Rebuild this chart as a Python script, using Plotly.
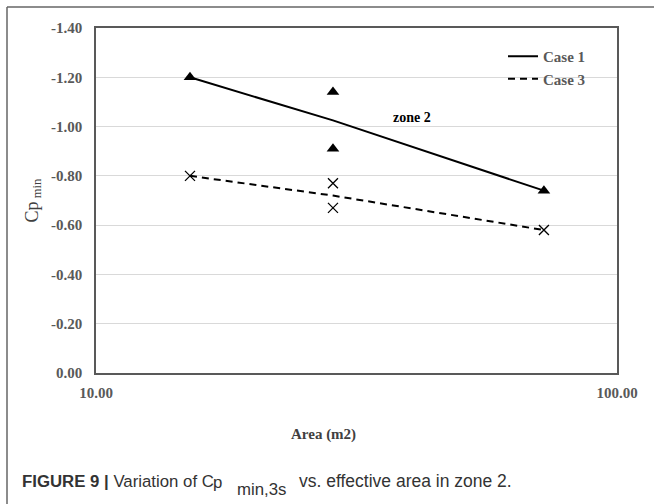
import plotly.graph_objects as go

# ---- data ----
area_mid = [15.15, 28.5, 72.4]
case1_line = [-1.20, -1.025, -0.74]
case3_line = [-0.80, -0.72, -0.58]
area_pts = [15.15, 28.5, 28.5, 72.4]
case1_pts = [-1.20, -1.14, -0.91, -0.74]
case3_pts = [-0.80, -0.77, -0.67, -0.58]
y_ticks = [0.0, -0.2, -0.4, -0.6, -0.8, -1.0, -1.2, -1.4]
y_ticktext = ["0.00", "-0.20", "-0.40", "-0.60", "-0.80", "-1.00", "-1.20", "-1.40"]
x_ticks = [10, 100]
x_ticktext = ["10.00", "100.00"]

W, H = 654, 504
L, R, T, B = 96, 37, 28, 131
pw, ph = W - L - R, H - T - B

def px(x):
    return (x - L) / pw

def py(y):
    return (H - B - y) / ph

serif = "Liberation Serif, Times New Roman, serif"
sans = "Liberation Sans, Arial, Helvetica, sans-serif"

fig = go.Figure()
fig.add_trace(go.Scatter(x=area_mid, y=case1_line, mode="lines", name="Case 1",
                         line=dict(color="black", width=2)))
fig.add_trace(go.Scatter(x=area_mid, y=case3_line, mode="lines", name="Case 3",
                         line=dict(color="black", width=2, dash="7px,5px")))
fig.add_trace(go.Scatter(x=area_pts, y=case1_pts, mode="markers", showlegend=False,
                         marker=dict(symbol="triangle-up", size=11, color="black")))
fig.add_trace(go.Scatter(x=area_pts, y=case3_pts, mode="markers", showlegend=False,
                         marker=dict(symbol="x-thin", size=10, color="black",
                                     line=dict(color="black", width=1.3))))

fig.update_layout(
    width=W, height=H,
    margin=dict(l=L, r=R, t=T, b=B),
    paper_bgcolor="white", plot_bgcolor="white",
    xaxis=dict(type="log", range=[1, 2], tickvals=x_ticks, ticktext=x_ticktext,
               showgrid=False, zeroline=False, showline=True, mirror=True,
               linecolor="#595959", linewidth=1.5, ticks="", ticklabelstandoff=5,
               tickfont=dict(family=serif, size=15, color="#595959", weight="bold")),
    yaxis=dict(range=[0, -1.4], tickvals=y_ticks, ticktext=y_ticktext,
               showgrid=True, gridcolor="#d9d9d9", gridwidth=1, zeroline=False,
               showline=True, mirror=True, linecolor="#595959", linewidth=1.5, ticks="",
               ticklabelstandoff=9,
               tickfont=dict(family=serif, size=15, color="#595959", weight="bold"),
               title=dict(text="Cp<sub> min</sub>", standoff=8,
                          font=dict(family=serif, size=18, color="#404040"))),
    legend=dict(x=px(503), y=py(40), xanchor="left", yanchor="top",
                bgcolor="rgba(0,0,0,0)", tracegroupgap=0, itemwidth=30,
                font=dict(family=serif, size=15, color="#595959", weight="bold")),
    showlegend=True,
)

def note(x, y, text, font, xanchor="center"):
    fig.add_annotation(x=px(x), y=py(y), xref="paper", yref="paper", showarrow=False,
                       xanchor=xanchor, yanchor="middle", text=text, font=font)

note(412, 117, "zone 2", dict(family=serif, size=14, color="black", weight="bold"))
note(323, 434, "Area (m2)", dict(family=serif, size=15, color="#404040", weight="bold"))

cap_font = dict(family=sans, size=16.8, color="#333333")
note(20, 481, "<b>FIGURE 9 |</b> Variation of C", cap_font, "left")
note(211, 482, "p", cap_font, "left")
note(235, 489, "min,3s", cap_font, "left")
note(297, 481, "vs. effective area in zone 2.", dict(family=sans, size=17.5, color="#333333"), "left")

# outer frame
fig.add_shape(type="line", xref="paper", yref="paper", x0=px(7), x1=px(700), y0=py(7), y1=py(7),
              line=dict(color="#666666", width=1.5))
fig.add_shape(type="line", xref="paper", yref="paper", x0=px(7), x1=px(7), y0=py(7), y1=py(520),
              line=dict(color="#666666", width=1.5))

fig.write_html("out.html", config={"displayModeBar": False},
               post_script="document.body.style.margin='0px';document.body.style.overflow='hidden';")
